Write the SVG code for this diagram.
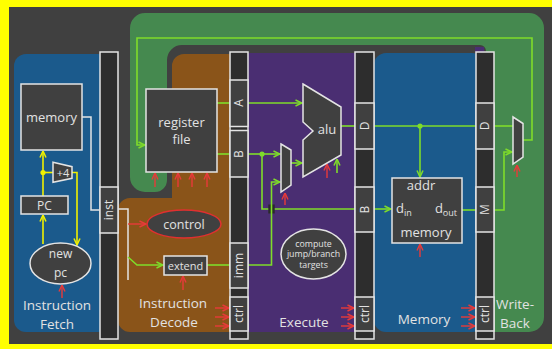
<svg xmlns="http://www.w3.org/2000/svg" width="552" height="349" viewBox="0 0 552 349">
<defs>
<style>
.t{font-family:"Open Sans","Noto Sans","DejaVu Sans",sans-serif;fill:#e2e2e2;text-anchor:middle}
.lbl{font-size:13.5px}
.box{fill:#404040;stroke:#e4e4e4;stroke-width:1.5}
.reg{fill:#2d2d2d;stroke:#e4e4e4;stroke-width:1.5}
.g{stroke:#7fdc2a;stroke-width:1.6;fill:none}
.y{stroke:#f0f000;stroke-width:1.6;fill:none}
.r{stroke:#e83a3a;stroke-width:1.4;fill:none}
.w{stroke:#e4e4e4;stroke-width:1.5;fill:none}
</style>
<marker id="ag" viewBox="0 0 8 8" refX="7.5" refY="4" markerWidth="8" markerHeight="8" markerUnits="userSpaceOnUse" orient="auto"><path d="M1,1 L7.5,4 L1,7" fill="none" stroke="#7fdc2a" stroke-width="1.5"/></marker>
<marker id="ay" viewBox="0 0 8 8" refX="7.5" refY="4" markerWidth="8" markerHeight="8" markerUnits="userSpaceOnUse" orient="auto"><path d="M1,1 L7.5,4 L1,7" fill="none" stroke="#f0f000" stroke-width="1.5"/></marker>
<marker id="ar" viewBox="0 0 8 8" refX="7.5" refY="4" markerWidth="8" markerHeight="8" markerUnits="userSpaceOnUse" orient="auto"><path d="M1,1 L7.5,4 L1,7" fill="none" stroke="#e83a3a" stroke-width="1.4"/></marker>
</defs>

<g id="background">
<rect width="552" height="349" fill="#ffff00"/>
<rect x="9" y="7" width="543" height="337" fill="#404040"/>
<path d="M130,28 A15,15 0 0 1 145,13 H529 A15,15 0 0 1 544,28 V317 A15,15 0 0 1 529,332 H200 V192 H145 A15,15 0 0 1 130,177 Z" fill="#45894f"/>
<path d="M167,60 A15,15 0 0 1 182,45 H480 A6,6 0 0 1 486,51 V340 H108 V204 A12,12 0 0 1 120,192 H155 A12,12 0 0 0 167,180 Z" fill="#404040"/>
<rect x="475" y="47" width="9" height="6" fill="#4a2e72"/>
<rect x="14" y="54" width="96" height="278" rx="12" fill="#1b5a8c"/>
<path d="M172,66 A12,12 0 0 1 184,54 H228 A12,12 0 0 1 240,66 V320 A12,12 0 0 1 228,332 H130 A12,12 0 0 1 118,320 V210 A12,12 0 0 1 130,198 H172 Z" fill="#8a5419"/>
<rect x="238" y="53" width="128" height="279" rx="12" fill="#4a2e72"/>
<rect x="374" y="53" width="110" height="279" rx="12" fill="#1b5a8c"/>
</g>

<g id="stage-labels">
<text class="t lbl" x="57" y="310">Instruction</text>
<text class="t lbl" x="57" y="329">Fetch</text>
<text class="t lbl" x="173" y="308">Instruction</text>
<text class="t lbl" x="174" y="327">Decode</text>
<text class="t lbl" x="304" y="327">Execute</text>
<text class="t lbl" x="424" y="324">Memory</text>
<text class="t lbl" x="515" y="309">Write-</text>
<text class="t lbl" x="515" y="328">Back</text>
</g>

<g id="connectors">
<path class="y" d="M43,196 V151" marker-end="url(#ay)"/>
<path class="y" d="M43,172.5 H53"/>
<circle cx="43" cy="172.5" r="2.6" fill="#f0f000"/>
<path class="y" d="M72,172.5 H77 V245" marker-end="url(#ay)"/>
<path class="y" d="M43,244 V215" marker-end="url(#ay)"/>
<path class="w" d="M82,117 H91 V210 H100"/>
<path class="w" d="M118,209 H128 V280"/>
<path class="g" d="M128,257 L137,265 H163" marker-end="url(#ag)"/>
<path class="g" d="M207,265 H230"/>
<path class="g" d="M217,103 H230"/>
<path class="g" d="M248,103 H302" marker-end="url(#ag)"/>
<path class="g" d="M217,154 H230"/>
<path class="g" d="M248,154 H280" marker-end="url(#ag)"/>
<path class="g" d="M262,154 V209 H355"/>
<circle cx="262" cy="154" r="2.6" fill="#7fdc2a"/>
<rect x="268.3" y="204.5" width="6.4" height="9" fill="#2a2a2a"/>
<path class="g" d="M248,265 H271.5 V182 H280" marker-end="url(#ag)"/>
<path class="g" d="M291,163 H302" marker-end="url(#ag)"/>
<path class="g" d="M337,173 V159" marker-end="url(#ag)"/>
<path class="g" d="M341,126 H355"/>
<path class="g" d="M374,126 H476"/>
<circle cx="420" cy="126" r="2.6" fill="#7fdc2a"/>
<path class="g" d="M420,126 V177" marker-end="url(#ag)"/>
<path class="g" d="M374,209 H391" marker-end="url(#ag)"/>
<path class="g" d="M462,210 H476"/>
<path class="g" d="M494,126 H513"/>
<path class="g" d="M494,210 H504 V152 H512" marker-end="url(#ag)"/>
<path class="g" d="M523,140 H532 V38 H137 V145 H145" marker-end="url(#ag)"/>
<path class="r" d="M128,224 H146" marker-end="url(#ar)"/>
<path class="r" d="M62,298 V285" marker-end="url(#ar)"/>
<path class="r" d="M183,290 V276" marker-end="url(#ar)"/>
<path class="r" d="M155,187 V173" marker-end="url(#ar)"/>
<path class="r" d="M178,187 V173" marker-end="url(#ar)"/>
<path class="r" d="M192,187 V173" marker-end="url(#ar)"/>
<path class="r" d="M207,187 V173" marker-end="url(#ar)"/>
<path class="r" d="M285,205 V193" marker-end="url(#ar)"/>
<path class="r" d="M327,178 V164" marker-end="url(#ar)"/>
<path class="r" d="M420,257 V244" marker-end="url(#ar)"/>
<path class="r" d="M517,177 V165" marker-end="url(#ar)"/>
<path class="r" d="M215,308 H229" marker-end="url(#ar)"/>
<path class="r" d="M215,317 H229" marker-end="url(#ar)"/>
<path class="r" d="M215,326 H229" marker-end="url(#ar)"/>
<path class="r" d="M341,308 H354" marker-end="url(#ar)"/>
<path class="r" d="M341,317 H354" marker-end="url(#ar)"/>
<path class="r" d="M341,326 H354" marker-end="url(#ar)"/>
<path class="r" d="M461,308 H475" marker-end="url(#ar)"/>
<path class="r" d="M461,317 H475" marker-end="url(#ar)"/>
<path class="r" d="M461,326 H475" marker-end="url(#ar)"/>
</g>

<g id="if-memory">
<rect class="box" x="21" y="84" width="61" height="66"/>
<text class="t" x="51.5" y="121.5" font-size="13">memory</text>
</g>
<g id="adder">
<polygon class="box" points="53,162.3 72,166.7 72,178.3 53,182.3"/>
<text class="t" x="63" y="176.5" font-size="11">+4</text>
</g>
<g id="pc">
<rect class="box" x="21" y="196" width="47" height="18"/>
<text class="t" x="44.5" y="209.5" font-size="12">PC</text>
</g>
<g id="new-pc">
<ellipse class="box" cx="60.5" cy="263.5" rx="30.5" ry="20.5"/>
<text class="t" x="60.5" y="258" font-size="12">new</text>
<text class="t" x="60.5" y="277" font-size="12">pc</text>
</g>

<g id="reg-if-id">
<rect class="reg" x="100" y="52" width="18" height="287"/>
<rect class="box" x="100" y="187" width="18" height="46"/>
<text class="t" transform="translate(109,210) rotate(-90)" dy="0.35em" font-size="12">inst</text>
</g>

<g id="register-file">
<rect class="box" x="146" y="89" width="71" height="83"/>
<text class="t" x="181.5" y="127" font-size="13">register</text>
<text class="t" x="181.5" y="144" font-size="13">file</text>
</g>
<g id="control">
<ellipse cx="184" cy="224" rx="37" ry="14" fill="#404040" stroke="#e03030" stroke-width="1.5"/>
<text class="t" x="184" y="228.5" font-size="12.5">control</text>
</g>
<g id="extend">
<rect class="box" x="164" y="256" width="43" height="19"/>
<text class="t" x="185.5" y="269.5" font-size="11">extend</text>
</g>

<g id="reg-id-ex">
<rect class="reg" x="230" y="52" width="18" height="287"/>
<rect class="box" x="230" y="80" width="18" height="46.5"/>
<rect class="box" x="230" y="130.5" width="18" height="46.5"/>
<rect class="box" x="230" y="243" width="18" height="45"/>
<rect class="box" x="230" y="297" width="18" height="34"/>
<text class="t" transform="translate(239,103) rotate(-90)" dy="0.35em" font-size="12">A</text>
<text class="t" transform="translate(239,154) rotate(-90)" dy="0.35em" font-size="12">B</text>
<text class="t" transform="translate(239,265.5) rotate(-90)" dy="0.35em" font-size="12">imm</text>
<text class="t" transform="translate(239,314) rotate(-90)" dy="0.35em" font-size="12">ctrl</text>
</g>

<g id="ex-mux">
<polygon class="box" points="281,144 291,150 291,185 281,192"/>
</g>
<g id="alu">
<polygon class="box" points="303,84 341,107 341,155 303,177 303,140 313,131 303,122"/>
<text class="t" x="327" y="134" font-size="13">alu</text>
</g>
<g id="branch-targets">
<ellipse class="box" cx="313.5" cy="254" rx="32.5" ry="25"/>
<text class="t" x="313.5" y="246.5" font-size="8.8">compute</text>
<text class="t" x="313.5" y="257" font-size="8.8">jump/branch</text>
<text class="t" x="313.5" y="267.5" font-size="8.8">targets</text>
</g>

<g id="reg-ex-mem">
<rect class="reg" x="355" y="52" width="19" height="287"/>
<rect class="box" x="355" y="103" width="19" height="46"/>
<rect class="box" x="355" y="187" width="19" height="45"/>
<rect class="box" x="355" y="297" width="19" height="34"/>
<text class="t" transform="translate(364.5,126) rotate(-90)" dy="0.35em" font-size="12">D</text>
<text class="t" transform="translate(364.5,209.5) rotate(-90)" dy="0.35em" font-size="12">B</text>
<text class="t" transform="translate(364.5,314) rotate(-90)" dy="0.35em" font-size="12">ctrl</text>
</g>

<g id="data-memory">
<rect class="box" x="392" y="178" width="70" height="65"/>
<text class="t" x="421" y="189.5" font-size="13">addr</text>
<text class="t" x="396" y="213" font-size="13" style="text-anchor:start">d<tspan font-size="9" dy="3">in</tspan></text>
<text class="t" x="457" y="213" font-size="13" style="text-anchor:end">d<tspan font-size="9" dy="3">out</tspan></text>
<text class="t" x="426" y="237" font-size="13">memory</text>
</g>

<g id="reg-mem-wb">
<rect class="reg" x="476" y="52" width="18" height="287"/>
<rect class="box" x="476" y="103" width="18" height="46"/>
<rect class="box" x="476" y="187" width="18" height="45"/>
<rect class="box" x="476" y="297" width="18" height="34"/>
<text class="t" transform="translate(485,126) rotate(-90)" dy="0.35em" font-size="12">D</text>
<text class="t" transform="translate(485,209.5) rotate(-90)" dy="0.35em" font-size="12">M</text>
<text class="t" transform="translate(485,314) rotate(-90)" dy="0.35em" font-size="12">ctrl</text>
</g>

<g id="wb-mux">
<polygon class="box" points="513,117 523,123.5 523,157 513,164"/>
</g>
</svg>
